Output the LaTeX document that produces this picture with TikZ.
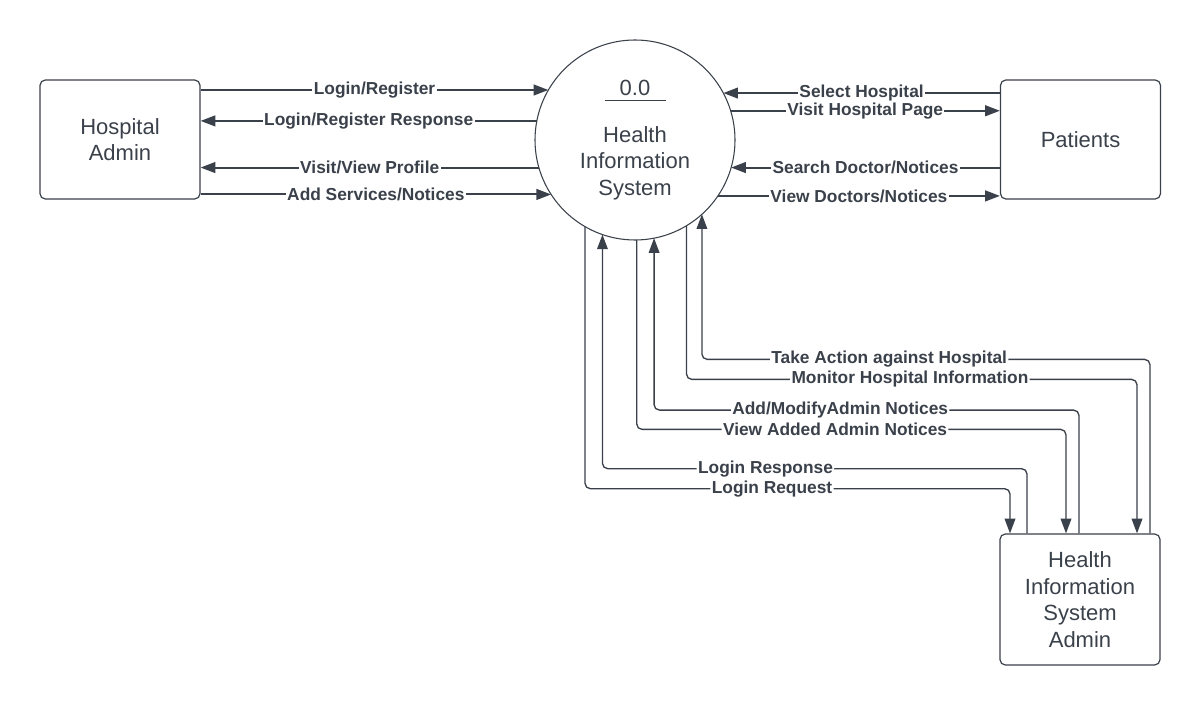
\documentclass[tikz,border=0pt]{standalone}
\usepackage{fontspec}
\setmainfont{Liberation Sans}
\usepackage{tikz}
\usetikzlibrary{arrows.meta,positioning,calc}
\definecolor{lcdark}{RGB}{58,65,74}
\tikzset{
  entity/.style={draw=lcdark,line width=0.9pt,rounded corners=4pt,minimum width=120pt,
    align=center,text=lcdark,font=\fontsize{16.5}{20}\selectfont},
  process/.style={draw=lcdark,line width=0.8pt,circle,minimum size=150pt,inner sep=0pt,outer sep=0pt},
  flow/.style={lcdark,line width=1.5pt,-{Triangle[length=11pt,width=8pt]}},
  flowb/.style={lcdark,line width=1pt,rounded corners=4pt,-{Triangle[length=11pt,width=8pt]}},
  lbl/.style={fill=white,text=lcdark,font=\fontsize{13}{15}\selectfont\bfseries,inner xsep=1pt,inner ysep=0.5pt}
}

\begin{document}
\begin{tikzpicture}[x=0.75pt,y=-0.75pt]
  \useasboundingbox (0,0) rectangle (1200,705);
  % External entities
  \node[entity,minimum height=89.25pt] (hadmin) at (120,139.5) {Hospital\\Admin};
  \node[entity,minimum height=89.25pt] (patients) at (1080.5,139.5) {Patients};
  \node[entity,minimum height=98.25pt] (hisadmin) at (1080,599.5) {Health\\Information\\System\\Admin};
  % Process
  \node[process] (his) at (635,140) {};
  \node[text=lcdark,font=\fontsize{16.5}{20}\selectfont] (hisnum) at (635,88) {0.0};
  \draw[lcdark,line width=0.8pt] ($(hisnum.center)+(-30.5,12.7)$) -- ++(61,0);
  \node[text=lcdark,align=center,font=\fontsize{16.5}{20}\selectfont] (histitle) at (635,163) {Health\\Information\\System};
  % Hospital admin flows
  \draw[flow] (hadmin.east |- his.150) -- node[lbl] (f1) {Login/Register} (his.150);
  \draw[flow] (his.169) -- node[lbl] (f2) {Login/Register Response} (hadmin.east |- his.169);
  \draw[flow] (his.196) -- node[lbl] (f3) {Visit/View Profile} (hadmin.east |- his.196);
  \draw[flow] (hadmin.east |- his.213) -- node[lbl] (f4) {Add Services/Notices} (his.213);
  % Patient flows
  \draw[flow] (patients.west |- his.28) -- node[lbl] (f5) {Select Hospital} (his.28);
  \draw[flow] (his.17) -- node[lbl] (f6) {Visit Hospital Page} (patients.west |- his.17);
  \draw[flow] (patients.west |- his.344) -- node[lbl] (f7) {Search Doctor/Notices} (his.344);
  \draw[flow] (his.326) -- node[lbl] (f8) {View Doctors/Notices} (patients.west |- his.326);
  % System admin flows
  \draw[flowb] ($(hisadmin.north)+(70,0)$) -- ($(hisadmin.north)+(70,-174)$)
    -| node[lbl,pos=0.291] (f9) {Take Action against Hospital} (his.312);
  \draw[flowb] (his.301) |- node[lbl,pos=0.748] (f10) {Monitor Hospital Information}
    ($(hisadmin.north)+(57,-154)$) -- ($(hisadmin.north)+(57,0)$);
  \draw[flowb] ($(hisadmin.north)+(-1,0)$) -- ($(hisadmin.north)+(-1,-123.3)$)
    -| node[lbl,pos=0.281] (f11) {Add/ModifyAdmin Notices} (his.281);
  \draw[flowb] (his.271) |- node[lbl,pos=0.731] (f12) {View Added Admin Notices}
    ($(hisadmin.north)+(-14,-104)$) -- ($(hisadmin.north)+(-14,0)$);
  \draw[flowb] ($(hisadmin.north)+(-53,0)$) -- ($(hisadmin.north)+(-53,-64.7)$)
    -| node[lbl,pos=0.308] (f13) {Login Response} (his.251);
  \draw[flowb] (his.240) |- node[lbl,pos=0.72] (f14) {Login Request}
    ($(hisadmin.north)+(-70,-44.7)$) -- ($(hisadmin.north)+(-70,0)$);
\end{tikzpicture}
\end{document}
